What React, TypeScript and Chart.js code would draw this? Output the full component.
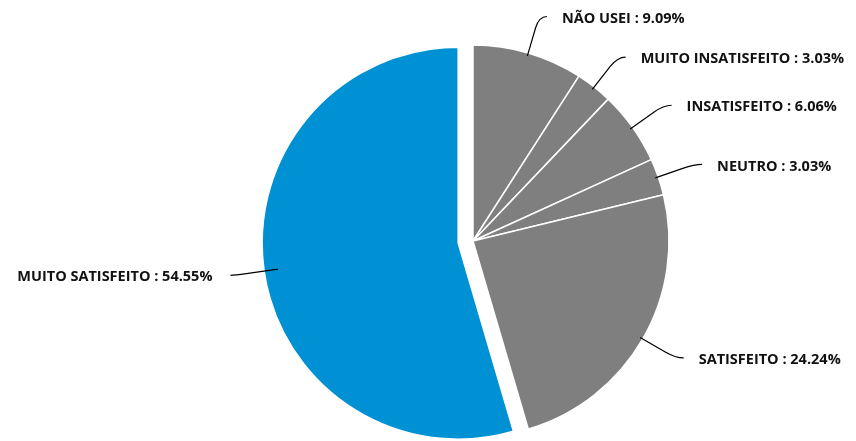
import React, { useEffect, useRef } from 'react';
import { Chart, registerables } from 'chart.js';

Chart.register(...registerables);

const labels = ['NÃO USEI', 'MUITO INSATISFEITO', 'INSATISFEITO', 'NEUTRO', 'SATISFEITO', 'MUITO SATISFEITO'];
const values = [9.09, 3.03, 6.06, 3.03, 24.24, 54.55];
const colors = ['#7f7f7f', '#7f7f7f', '#7f7f7f', '#7f7f7f', '#7f7f7f', '#0090d4'];
const explodedLabel = 'MUITO SATISFEITO';

const EXPLODE_PX = 15;
const FONT = 'bold 14.5px "Open Sans", "Noto Sans", sans-serif';

const explodePlugin = {
  id: 'explodeSlice',
  afterDatasetsUpdate(chart: any) {
    const meta = chart.getDatasetMeta(0);
    meta.data.forEach((arc: any, i: number) => {
      if (labels[i] === explodedLabel) {
        const mid = (arc.startAngle + arc.endAngle) / 2;
        arc.x += Math.cos(mid) * EXPLODE_PX;
        arc.y += Math.sin(mid) * EXPLODE_PX;
      }
    });
  },
};

const leaderLabelPlugin = {
  id: 'leaderLabels',
  afterDatasetsDraw(chart: any) {
    const ctx = chart.ctx;
    const meta = chart.getDatasetMeta(0);
    ctx.save();
    ctx.font = FONT;
    ctx.textBaseline = 'middle';
    meta.data.forEach((arc: any, i: number) => {
      const mid = (arc.startAngle + arc.endAngle) / 2;
      const cx = arc.x;
      const cy = arc.y;
      const r = arc.outerRadius;
      const dx = Math.cos(mid);
      const dy = Math.sin(mid);
      const side = dx >= 0 ? 1 : -1;
      const inset = side > 0 ? 3 : 14;
      const ext = side > 0 ? 38 : 30;
      const tail = side > 0 ? 8 : 4;
      const gap = side > 0 ? 15 : 18;
      const start = { x: cx + (r - inset) * dx, y: cy + (r - inset) * dy };
      const pA = { x: cx + (r + ext - 12) * dx, y: cy + (r + ext - 12) * dy };
      const elbow = { x: cx + (r + ext) * dx, y: cy + (r + ext) * dy };
      const end = { x: elbow.x + side * tail, y: elbow.y };
      ctx.beginPath();
      ctx.strokeStyle = '#000000';
      ctx.lineWidth = 1.2;
      ctx.moveTo(start.x, start.y);
      ctx.lineTo(pA.x, pA.y);
      ctx.quadraticCurveTo(elbow.x, elbow.y, end.x, end.y);
      ctx.stroke();
      const text = `${labels[i]} : ${values[i].toFixed(2)}%`;
      ctx.fillStyle = '#111111';
      ctx.textAlign = side > 0 ? 'left' : 'right';
      ctx.fillText(text, end.x + side * gap, end.y + 2);
    });
    ctx.restore();
  },
};

export default function App() {
  const canvasRef = useRef<HTMLCanvasElement | null>(null);

  useEffect(() => {
    if (!canvasRef.current) return;
    const chart = new Chart(canvasRef.current, {
      type: 'pie',
      data: {
        labels,
        datasets: [
          {
            data: values,
            backgroundColor: colors,
            borderColor: '#ffffff',
            borderWidth: 1.5,
          },
        ],
      },
      options: {
        animation: false,
        responsive: true,
        maintainAspectRatio: false,
        events: [],
        radius: 196,
        layout: { padding: { left: 90, right: 0, top: 41, bottom: 0 } },
        plugins: {
          legend: { display: false },
          tooltip: { enabled: false },
        },
      } as any,
      plugins: [explodePlugin, leaderLabelPlugin],
    });
    return () => chart.destroy();
  }, []);

  return (
    <div style={{ position: 'fixed', left: 0, top: 0, width: 856, height: 441, background: '#ffffff' }}>
      <canvas ref={canvasRef} />
    </div>
  );
}
